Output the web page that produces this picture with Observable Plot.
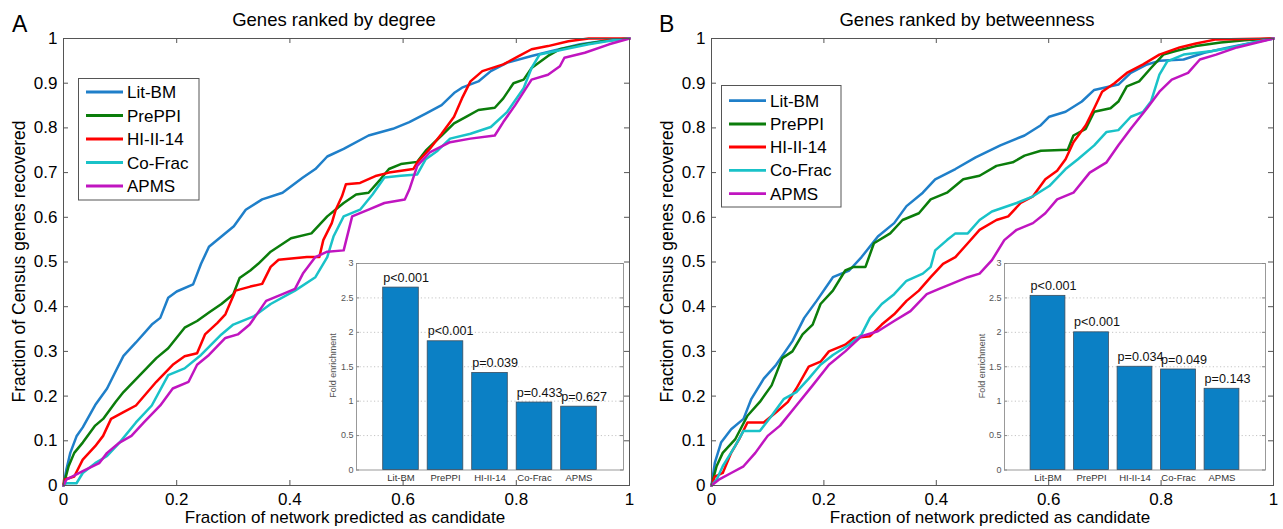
<!DOCTYPE html>
<html><head><meta charset="utf-8">
<script src="https://cdn.jsdelivr.net/npm/d3@7"></script>
<script src="https://cdn.jsdelivr.net/npm/@observablehq/plot@0.6"></script>
<style>
body{margin:0;background:#fff;}
#root{position:relative;width:1283px;height:529px;overflow:hidden;font-family:"Liberation Sans",Arial,sans-serif;}
#root svg{position:absolute;overflow:visible;}
</style></head><body><div id="root"></div>
<script>
// ---------- data ----------
const seriesNames = ["Lit-BM","PrePPI","HI-II-14","Co-Frac","APMS"];
const seriesColors = ["#1f7fc9","#0b7d0b","#ff0000","#19c2c8","#c015c0"];
const xTicks = [0,0.2,0.4,0.6,0.8,1];
const yTicks = [0,0.1,0.2,0.3,0.4,0.5,0.6,0.7,0.8,0.9,1];
const insetTicks = [0,0.5,1,1.5,2,2.5,3];
const insetGrid = [0.5,1,1.5,2,2.5];

const degreeLitBM = [[0,0],[0.005,0.035],[0.012,0.073],[0.023,0.11],[0.034,0.13],[0.056,0.18],[0.077,0.217],[0.092,0.255],[0.106,0.29],[0.128,0.32],[0.156,0.36],[0.171,0.375],[0.185,0.42],[0.2,0.434],[0.229,0.45],[0.243,0.496],[0.257,0.534],[0.279,0.557],[0.301,0.58],[0.322,0.617],[0.351,0.64],[0.387,0.655],[0.423,0.689],[0.445,0.708],[0.466,0.736],[0.495,0.753],[0.539,0.783],[0.582,0.798],[0.611,0.813],[0.64,0.832],[0.668,0.851],[0.69,0.878],[0.704,0.89],[0.733,0.904],[0.755,0.927],[0.784,0.946],[0.827,0.961],[0.863,0.972],[0.913,0.987],[0.957,0.995],[1,1]];
const degreePrePPI = [[0,0],[0.009,0.043],[0.019,0.073],[0.034,0.096],[0.056,0.134],[0.07,0.149],[0.092,0.187],[0.106,0.209],[0.135,0.247],[0.164,0.285],[0.185,0.307],[0.214,0.353],[0.236,0.368],[0.257,0.387],[0.279,0.406],[0.3,0.428],[0.311,0.464],[0.33,0.481],[0.344,0.496],[0.366,0.523],[0.402,0.553],[0.438,0.564],[0.466,0.602],[0.495,0.632],[0.517,0.651],[0.539,0.655],[0.56,0.685],[0.575,0.708],[0.596,0.719],[0.625,0.724],[0.64,0.749],[0.668,0.783],[0.69,0.81],[0.712,0.825],[0.733,0.84],[0.762,0.845],[0.777,0.866],[0.795,0.9],[0.813,0.908],[0.827,0.934],[0.856,0.961],[0.877,0.976],[0.921,0.987],[0.964,0.996],[1,1]];
const degreeHI = [[0,0],[0.001,0.013],[0.019,0.02],[0.034,0.058],[0.056,0.088],[0.07,0.111],[0.084,0.149],[0.106,0.164],[0.128,0.179],[0.164,0.232],[0.193,0.27],[0.214,0.289],[0.236,0.296],[0.25,0.338],[0.272,0.364],[0.286,0.383],[0.304,0.436],[0.33,0.445],[0.351,0.451],[0.366,0.489],[0.38,0.505],[0.43,0.511],[0.452,0.511],[0.459,0.549],[0.474,0.587],[0.481,0.617],[0.492,0.647],[0.499,0.674],[0.524,0.677],[0.553,0.693],[0.575,0.7],[0.618,0.708],[0.625,0.723],[0.647,0.753],[0.668,0.787],[0.69,0.825],[0.704,0.866],[0.719,0.904],[0.74,0.927],[0.777,0.942],[0.805,0.961],[0.827,0.976],[0.856,0.983],[0.892,0.994],[0.928,1],[1,1]];
const degreeCoFrac = [[0,0],[0.005,0.005],[0.023,0.005],[0.034,0.028],[0.056,0.05],[0.077,0.066],[0.099,0.096],[0.128,0.141],[0.156,0.179],[0.185,0.247],[0.214,0.262],[0.243,0.292],[0.279,0.338],[0.3,0.36],[0.337,0.379],[0.366,0.406],[0.409,0.436],[0.445,0.466],[0.466,0.511],[0.477,0.557],[0.495,0.602],[0.524,0.617],[0.546,0.651],[0.567,0.689],[0.596,0.693],[0.625,0.696],[0.64,0.73],[0.661,0.749],[0.683,0.776],[0.719,0.787],[0.755,0.802],[0.784,0.836],[0.813,0.889],[0.827,0.934],[0.841,0.964],[0.885,0.976],[0.928,0.987],[0.971,0.996],[1,1]];
const degreeAPMS = [[0,0],[0.005,0.013],[0.034,0.032],[0.063,0.05],[0.077,0.073],[0.099,0.096],[0.12,0.111],[0.142,0.141],[0.171,0.179],[0.193,0.217],[0.221,0.232],[0.236,0.27],[0.257,0.292],[0.286,0.33],[0.308,0.338],[0.329,0.36],[0.358,0.413],[0.387,0.428],[0.409,0.44],[0.423,0.474],[0.445,0.511],[0.466,0.523],[0.495,0.526],[0.51,0.602],[0.539,0.617],[0.567,0.632],[0.603,0.64],[0.611,0.662],[0.625,0.715],[0.647,0.745],[0.683,0.768],[0.719,0.776],[0.762,0.783],[0.777,0.813],[0.798,0.851],[0.827,0.908],[0.856,0.919],[0.877,0.938],[0.885,0.957],[0.921,0.968],[0.964,0.987],[1,1]];

const betweenLitBM = [[0,0],[0.006,0.051],[0.017,0.096],[0.035,0.126],[0.057,0.149],[0.071,0.194],[0.093,0.239],[0.115,0.27],[0.144,0.323],[0.165,0.375],[0.187,0.413],[0.216,0.466],[0.245,0.481],[0.267,0.511],[0.296,0.557],[0.325,0.587],[0.347,0.625],[0.376,0.655],[0.398,0.685],[0.434,0.708],[0.47,0.734],[0.514,0.761],[0.557,0.783],[0.586,0.806],[0.601,0.825],[0.63,0.836],[0.659,0.859],[0.681,0.885],[0.724,0.897],[0.746,0.923],[0.775,0.942],[0.797,0.95],[0.84,0.953],[0.877,0.968],[0.92,0.98],[0.964,0.991],[1,1]];
const betweenPrePPI = [[0,0],[0.009,0.043],[0.02,0.073],[0.042,0.103],[0.064,0.156],[0.086,0.187],[0.107,0.224],[0.126,0.285],[0.144,0.3],[0.162,0.338],[0.18,0.36],[0.194,0.406],[0.216,0.436],[0.238,0.481],[0.253,0.489],[0.274,0.489],[0.289,0.542],[0.318,0.564],[0.34,0.594],[0.369,0.609],[0.39,0.64],[0.419,0.655],[0.448,0.685],[0.477,0.693],[0.507,0.715],[0.536,0.723],[0.557,0.738],[0.586,0.749],[0.634,0.751],[0.644,0.783],[0.666,0.798],[0.681,0.836],[0.71,0.844],[0.724,0.859],[0.739,0.893],[0.761,0.904],[0.782,0.934],[0.804,0.964],[0.826,0.972],[0.862,0.983],[0.906,0.991],[0.949,0.996],[1,1]];
const betweenHI = [[0,0],[0.006,0.02],[0.02,0.028],[0.035,0.073],[0.049,0.103],[0.064,0.141],[0.093,0.141],[0.115,0.164],[0.136,0.187],[0.151,0.217],[0.173,0.266],[0.194,0.277],[0.209,0.3],[0.238,0.315],[0.253,0.33],[0.282,0.334],[0.303,0.36],[0.325,0.383],[0.347,0.413],[0.369,0.436],[0.39,0.466],[0.412,0.496],[0.434,0.511],[0.456,0.542],[0.477,0.572],[0.507,0.594],[0.528,0.602],[0.55,0.632],[0.572,0.647],[0.594,0.685],[0.615,0.704],[0.63,0.73],[0.644,0.768],[0.666,0.806],[0.681,0.844],[0.695,0.881],[0.717,0.9],[0.739,0.923],[0.768,0.942],[0.797,0.964],[0.833,0.98],[0.862,0.989],[0.898,0.998],[1,1]];
const betweenCoFrac = [[0,0],[0.009,0.013],[0.02,0.043],[0.042,0.088],[0.057,0.122],[0.086,0.122],[0.107,0.156],[0.129,0.194],[0.151,0.209],[0.173,0.239],[0.194,0.27],[0.216,0.292],[0.245,0.315],[0.267,0.338],[0.282,0.375],[0.303,0.406],[0.325,0.428],[0.347,0.458],[0.376,0.474],[0.39,0.489],[0.398,0.526],[0.419,0.549],[0.434,0.564],[0.456,0.564],[0.477,0.594],[0.499,0.613],[0.543,0.632],[0.572,0.647],[0.601,0.67],[0.63,0.708],[0.652,0.73],[0.681,0.761],[0.703,0.791],[0.724,0.795],[0.746,0.825],[0.768,0.836],[0.782,0.859],[0.797,0.919],[0.811,0.949],[0.84,0.964],[0.891,0.972],[0.927,0.98],[0.964,0.991],[1,1]];
const betweenAPMS = [[0,0],[0.013,0.013],[0.035,0.028],[0.057,0.043],[0.078,0.073],[0.1,0.111],[0.122,0.134],[0.151,0.179],[0.18,0.224],[0.209,0.27],[0.238,0.3],[0.267,0.334],[0.296,0.345],[0.325,0.368],[0.354,0.39],[0.383,0.428],[0.405,0.44],[0.427,0.451],[0.456,0.466],[0.477,0.474],[0.499,0.504],[0.521,0.549],[0.543,0.572],[0.572,0.587],[0.594,0.609],[0.615,0.64],[0.644,0.655],[0.673,0.7],[0.703,0.723],[0.724,0.761],[0.746,0.798],[0.775,0.844],[0.797,0.881],[0.819,0.908],[0.848,0.923],[0.869,0.953],[0.898,0.964],[0.935,0.98],[0.971,0.991],[1,1]];

const degreeFold = [2.65,1.87,1.41,0.98,0.92];
const degreeP = ["p<0.001","p<0.001","p=0.039","p=0.433","p=0.627"];
const betweenFold = [2.53,2.0,1.5,1.46,1.18];
const betweenP = ["p<0.001","p<0.001","p=0.034","p=0.049","p=0.143"];

// ---------- drawing ----------
const FONT = "Liberation Sans, Arial, Helvetica, sans-serif";
const root = document.getElementById("root");
const AX = "#555";

function place(svg, left, top) {
  svg.style.left = left + "px";
  svg.style.top = top + "px";
  root.appendChild(svg);
}

function mainPlot(curves, b) {
  const rows = curves.flatMap((pts, i) => pts.map(([x, y]) => ({series: seriesNames[i], x, y})));
  const W = b.width - b.ml - b.mr, H = b.height - b.mt - b.mb, tl = 5;
  const svg = Plot.plot({
    width: b.width, height: b.height,
    marginLeft: b.ml, marginRight: b.mr, marginTop: b.mt, marginBottom: b.mb,
    style: {fontFamily: FONT, fontSize: "17px", background: "transparent", color: "#000"},
    x: {domain: [0, 1]}, y: {domain: [0, 1]},
    color: {domain: seriesNames, range: seriesColors},
    marks: [
      Plot.line(rows, {x: "x", y: "y", z: "series", stroke: "series", strokeWidth: 2.5}),
      Plot.frame({stroke: AX}),
      Plot.tickX(xTicks, {x: d => d, insetTop: H - tl, stroke: AX}),
      Plot.tickX(xTicks, {x: d => d, insetBottom: H - tl, stroke: AX}),
      Plot.tickY(yTicks, {y: d => d, insetRight: W - tl, stroke: AX}),
      Plot.tickY(yTicks, {y: d => d, insetLeft: W - tl, stroke: AX}),
      Plot.axisX(xTicks, {tickSize: 0, tickPadding: 7, tickFormat: d => String(d), label: null, fontSize: 17, fill: "#000"}),
      Plot.axisY(yTicks, {tickSize: 0, tickPadding: 6, tickFormat: d => String(d), label: null, fontSize: 17, fill: "#000"})
    ]
  });
  place(svg, b.left, b.top);
}

function insetPlot(fold, pvals, b) {
  const rows = fold.map((v, i) => ({i: i + 1, v, p: pvals[i]}));
  const W = b.width - b.ml - b.mr, tl = 3;
  const svg = Plot.plot({
    width: b.width, height: b.height,
    marginLeft: b.ml, marginRight: b.mr, marginTop: b.mt, marginBottom: b.mb,
    style: {fontFamily: FONT, fontSize: "10px", background: "transparent", color: "#000"},
    x: {domain: [0, 6]}, y: {domain: [0, 3]},
    marks: [
      Plot.frame({fill: "white", stroke: "#999"}),
      Plot.ruleY(insetGrid, {y: d => d, stroke: "#c4c4c4", strokeDasharray: "1.2,2.4"}),
      Plot.tickY(insetTicks, {y: d => d, insetRight: W - tl, stroke: "#888"}),
      Plot.tickY(insetTicks, {y: d => d, insetLeft: W - tl, stroke: "#888"}),
      Plot.rectY(rows, {x1: d => d.i - 0.4, x2: d => d.i + 0.4, y: "v", fill: "#0b80c5", stroke: "#3b4d5e", strokeWidth: 0.8}),
      Plot.text(rows, {x: d => d.i - 0.4, y: "v", text: "p", textAnchor: "start", lineAnchor: "bottom", dy: -6, fontSize: 12.6, fill: "#111"}),
      Plot.axisY(insetTicks, {tickSize: 0, tickPadding: 3, tickFormat: d => String(d), label: null, fontSize: 9, fill: "#555"}),
      Plot.axisX(rows.map(r => r.i), {tickSize: 0, tickPadding: 4, tickFormat: i => seriesNames[i - 1], label: null, fontSize: 9.5, fill: "#333"})
    ]
  });
  place(svg, b.left, b.top);
}

mainPlot([degreeLitBM, degreePrePPI, degreeHI, degreeCoFrac, degreeAPMS],
  {left: 0, top: 0, width: 640, height: 529, ml: 63, mr: 11, mt: 38, mb: 44});
mainPlot([betweenLitBM, betweenPrePPI, betweenHI, betweenCoFrac, betweenAPMS],
  {left: 640, top: 0, width: 643, height: 529, ml: 71, mr: 10, mt: 38, mb: 44});

insetPlot(degreeFold, degreeP, {left: 316, top: 240.5, width: 311, height: 248.5, ml: 40, mr: 4, mt: 22, mb: 20});
insetPlot(betweenFold, betweenP, {left: 963.5, top: 241, width: 305, height: 248.5, ml: 40, mr: 4, mt: 22, mb: 20});

// ---------- titles, labels, legends ----------
const ov = d3.create("svg").attr("width", 1283).attr("height", 529)
  .style("font-family", FONT).style("pointer-events", "none");
function txt(x, y, s, size, opts = {}) {
  const t = ov.append("text").attr("x", x).attr("y", y).attr("font-size", size)
    .attr("fill", opts.fill || "#000").attr("text-anchor", opts.anchor || "middle").text(s);
  if (opts.rotate) t.attr("transform", `rotate(-90 ${x} ${y})`).attr("dominant-baseline", "central");
  return t;
}
txt(12, 32, "A", 23, {anchor: "start"});
txt(659, 32, "B", 23, {anchor: "start"});
txt(334, 26, "Genes ranked by degree", 18.5);
txt(967, 26, "Genes ranked by betweenness", 18.5);
txt(345, 523, "Fraction of network predicted as candidate", 17);
txt(990, 523, "Fraction of network predicted as candidate", 17);
txt(18.5, 261.5, "Fraction of Census genes recovered", 17.5, {rotate: true});
txt(667, 261.5, "Fraction of Census genes recovered", 17.5, {rotate: true});
txt(333, 365.5, "Fold enrichment", 9, {rotate: true, fill: "#555"});
txt(982, 366, "Fold enrichment", 9, {rotate: true, fill: "#555"});

function legend(x0, y0, w, h, rowY, lineX1, lineX2, textX) {
  ov.append("rect").attr("x", x0).attr("y", y0).attr("width", w).attr("height", h)
    .attr("fill", "white").attr("stroke", AX).attr("stroke-width", 1);
  seriesNames.forEach((name, i) => {
    const y = rowY[i];
    ov.append("line").attr("x1", lineX1).attr("x2", lineX2).attr("y1", y).attr("y2", y)
      .attr("stroke", seriesColors[i]).attr("stroke-width", 2.8);
    ov.append("text").attr("x", textX).attr("y", y).attr("dy", "0.36em").attr("font-size", 17)
      .text(name);
  });
}
legend(78.5, 78.5, 120.5, 121.5, [92, 115.5, 139, 162.5, 186], 86, 123, 127);
legend(721.5, 85.5, 119.5, 121.5, [100.7, 124, 147, 170.3, 193.6], 729, 766, 770);

root.appendChild(ov.node());
ov.node().style.left = "0px"; ov.node().style.top = "0px";
</script></body></html>
